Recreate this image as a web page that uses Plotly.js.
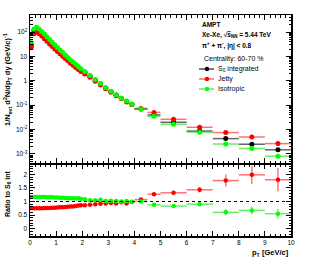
<!DOCTYPE html>
<html>
<head>
<meta charset="utf-8">
<script src="https://cdn.plot.ly/plotly-3.0.1.min.js"></script>
<style>html,body{margin:0;padding:0;background:#fff;}#chart{width:327px;height:273px;}</style>
</head>
<body>
<div id="chart"></div>
<script>
// ---- data ----
const ptCenters = [0.05,0.15,0.25,0.35,0.45,0.55,0.65,0.75,0.85,0.95,
  1.05,1.15,1.25,1.35,1.45,1.55,1.65,1.75,1.85,1.95,
  2.1,2.3,2.5,2.7,2.9,3.1,3.3,3.5,3.7,3.9,
  4.25,4.75,5.5,6.5,7.5,8.5,9.5];
const ptHalfWidth = [0.05,0.05,0.05,0.05,0.05,0.05,0.05,0.05,0.05,0.05,
  0.05,0.05,0.05,0.05,0.05,0.05,0.05,0.05,0.05,0.05,
  0.1,0.1,0.1,0.1,0.1,0.1,0.1,0.1,0.1,0.1,
  0.25,0.25,0.5,0.5,0.5,0.5,0.5];
// S0 integrated spectrum 1/Nevt d2N/dpT dy
const specIntegrated = [30.9,114.8,134.9,114.8,91.2,70.8,55.0,42.7,33.1,26.3,
  20.4,16.2,12.9,10.2,8.13,6.46,5.25,4.27,3.47,2.82,
  2.24,1.58,1.07,0.741,0.513,0.363,0.263,0.195,0.145,0.110,
  0.0692,0.0398,0.0200,0.00871,0.00427,0.00251,0.00148];
// Ratio to S0 integrated
const ratioJetty = [0.76,0.75,0.75,0.75,0.75,0.76,0.76,0.76,0.77,0.77,
  0.78,0.79,0.79,0.80,0.81,0.82,0.82,0.83,0.85,0.86,
  0.86,0.88,0.90,0.92,0.93,0.94,0.93,0.97,0.93,0.98,
  1.07,1.27,1.32,1.43,1.77,1.98,1.80];
const ratioJettyErr = [0.01,0.01,0.01,0.01,0.01,0.01,0.01,0.01,0.01,0.01,
  0.01,0.01,0.01,0.01,0.01,0.01,0.01,0.01,0.01,0.01,
  0.01,0.01,0.01,0.01,0.02,0.02,0.02,0.02,0.02,0.03,
  0.03,0.04,0.05,0.10,0.22,0.34,0.42];
const ratioIsotropic = [1.17,1.17,1.17,1.17,1.17,1.17,1.16,1.16,1.16,1.15,
  1.15,1.14,1.14,1.13,1.12,1.12,1.12,1.11,1.12,1.10,
  1.08,1.05,1.05,1.06,1.02,1.03,1.02,1.00,1.02,0.99,
  1.00,0.88,0.83,0.90,0.60,0.67,0.55];
const ratioIsotropicErr = [0.01,0.01,0.01,0.01,0.01,0.01,0.01,0.01,0.01,0.01,
  0.01,0.01,0.01,0.01,0.01,0.01,0.01,0.01,0.01,0.01,
  0.01,0.01,0.01,0.01,0.02,0.02,0.02,0.02,0.02,0.02,
  0.02,0.03,0.04,0.06,0.12,0.15,0.18];
const seriesNames = ["S<sub>0</sub> integrated","Jetty","Isotropic"];
const logTickVals = [1e2,10,1,0.1,0.01,0.001];
const logTickText = ["10<sup>2</sup>","10","1","10<sup>-1</sup>","10<sup>-2</sup>","10<sup>-3</sup>"];
const ratioTickVals = [0,0.5,1,1.5,2];
const ratioTickText = ["0","0.5","1","1.5","2"];
const xTickVals = [0,1,2,3,4,5,6,7,8,9,10];

// ---- derived ----
const specJetty = specIntegrated.map((v,i)=>v*ratioJetty[i]);
const specIsotropic = specIntegrated.map((v,i)=>v*ratioIsotropic[i]);

const W=327,H=273;
const px = x=>x/W, py = y=>1-y/H;
const FONT = "Liberation Sans, Arial, sans-serif";

function specTrace(y,color,ecolor){
  return {x:ptCenters,y:y,type:'scatter',mode:'markers',xaxis:'x',yaxis:'y',
    marker:{color:color,size:5,symbol:'circle'},
    error_x:{type:'data',array:ptHalfWidth,color:ecolor,thickness:1.5,width:0},
    showlegend:false,hoverinfo:'skip'};
}
function ratioTrace(y,err,color,ecolor){
  return {x:ptCenters,y:y,type:'scatter',mode:'markers',xaxis:'x2',yaxis:'y2',
    marker:{color:color,size:4.5,symbol:'circle'},
    error_x:{type:'data',array:ptHalfWidth,color:ecolor,thickness:1.5,width:0},
    error_y:{type:'data',array:err,color:ecolor,thickness:1.5,width:0},
    showlegend:false,hoverinfo:'skip'};
}
const data=[
  specTrace(specIntegrated,'#000000','rgba(0,0,0,0.6)'),
  specTrace(specJetty,'#ff0000','rgba(255,0,0,0.55)'),
  specTrace(specIsotropic,'#00ff00','rgba(0,230,0,0.6)'),
  ratioTrace(ratioJetty,ratioJettyErr,'#ff0000','rgba(255,0,0,0.55)'),
  ratioTrace(ratioIsotropic,ratioIsotropicErr,'#00ff00','rgba(0,230,0,0.6)')
];

const xdom=[px(30),px(291)];
const axisCommon={showline:true,linecolor:'#000',linewidth:1.5,mirror:'ticks',ticks:'inside',
  tickcolor:'#000',zeroline:false,showgrid:false,tickfont:{family:FONT,size:6.5,color:'#000'}};

const layout={
  width:W,height:H,margin:{l:0,r:0,t:0,b:0},paper_bgcolor:'#fff',plot_bgcolor:'#fff',
  showlegend:false,
  xaxis:Object.assign({},axisCommon,{domain:xdom,anchor:'y',range:[0,10],tickvals:xTickVals,
    showticklabels:false,ticklen:5,minor:{dtick:0.2,ticklen:2.5,ticks:'inside',tickcolor:'#000'}}),
  yaxis:Object.assign({},axisCommon,{domain:[py(163),py(15)],anchor:'x',type:'log',range:[-3.37,2.70],
    tickvals:logTickVals,ticktext:logTickText,ticklen:5,
    minor:{ticks:'inside',ticklen:2.5,tickcolor:'#000',dtick:'D1'}}),
  xaxis2:Object.assign({},axisCommon,{domain:xdom,anchor:'y2',range:[0,10],tickvals:xTickVals,
    ticklen:5,minor:{dtick:0.2,ticklen:2.5,ticks:'inside',tickcolor:'#000'}}),
  yaxis2:Object.assign({},axisCommon,{domain:[py(236),py(164)],anchor:'x2',range:[-0.27,2.38],
    tickvals:ratioTickVals,ticktext:ratioTickText,ticklen:5,
    minor:{dtick:0.1,ticklen:2.5,ticks:'inside',tickcolor:'#000'}}),
  shapes:[
    {type:'line',xref:'x2',yref:'y2',x0:0,x1:10,y0:1,y1:1,line:{color:'#000',width:1,dash:'dot'}}
  ],
  annotations:[]
};

// text block
function ann(text,x,y,opts){
  layout.annotations.push(Object.assign({text:text,xref:'paper',yref:'paper',x:px(x),y:py(y),
    xanchor:'left',yanchor:'middle',showarrow:false,font:{family:FONT,size:6.5,color:'#000'}},opts||{}));
}
ann('<b>AMPT</b>',200,24.5);
ann('<b>Xe-Xe, √<span style="text-decoration:overline">s</span><sub>NN</sub> = 5.44 TeV</b>',200,35);
ann('<b>π<sup>+</sup> + π<sup>-</sup>, |η| < 0.8</b>',200,45.5);
ann('Centrality: 60-70 %',202,59,{font:{family:FONT,size:7,color:'#000'}});
const legY=[69,79,89], legC=['#000000','#ff0000','#00ff00'], legE=['rgba(0,0,0,0.7)','rgba(255,0,0,0.6)','rgba(0,230,0,0.65)'];
for(let i=0;i<3;i++){
  layout.shapes.push({type:'line',xref:'paper',yref:'paper',x0:px(199),x1:px(214),y0:py(legY[i]),y1:py(legY[i]),line:{color:legE[i],width:1.5}});
  layout.shapes.push({type:'circle',xref:'paper',yref:'paper',xsizemode:'pixel',ysizemode:'pixel',
    xanchor:px(207),yanchor:py(legY[i]),x0:-2.2,x1:2.2,y0:-2.2,y1:2.2,fillcolor:legC[i],line:{width:0}});
  ann(seriesNames[i],216,legY[i],{font:{family:FONT,size:7,color:'#000'}});
}
// axis titles
ann('<b>1/N<sub>evt</sub> d<sup>2</sup>N/dp<sub>T</sub> dy (GeV/<i>c</i>)<sup>-1</sup></b>',7,80,{xanchor:'center',textangle:-90,font:{family:FONT,size:7.5,color:'#000'}});
ann('<b>Ratio to S<sub>0</sub> int</b>',8,194,{xanchor:'center',textangle:-90,font:{family:FONT,size:7,color:'#000'}});
ann('<b>p<sub>T</sub> [GeV/<i>c</i>]</b>',291,253,{xanchor:'right',font:{family:FONT,size:7.5,color:'#000'}});

Plotly.newPlot('chart',data,layout,{staticPlot:true,displayModeBar:false});
</script>
</body>
</html>
